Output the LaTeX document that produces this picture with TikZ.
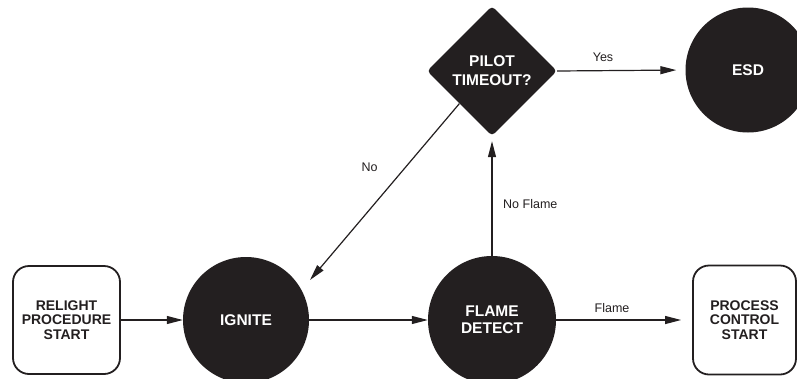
\documentclass[tikz,border=0pt]{standalone}
\usepackage{fontspec}
\setmainfont{Liberation Sans}
\usetikzlibrary{shapes.geometric,arrows.meta}
\definecolor{ink}{HTML}{231F20}
\begin{document}
\begin{tikzpicture}[x=1pt,y=-1pt,
  boxnode/.style={draw=ink,line width=1.8pt,rounded corners=16pt,align=center,
    font=\fontsize{14}{14.2}\selectfont\bfseries,text=ink,inner sep=0pt},
  blob/.style={circle,fill=ink,text=white,align=center,inner sep=0pt,
    font=\fontsize{15.5}{17}\selectfont\bfseries},
  decide/.style={diamond,fill=ink,text=white,align=center,inner sep=0pt,
    rounded corners=4pt,font=\fontsize{15.5}{19}\selectfont\bfseries},
  flow/.style={draw=ink,line width=1.2pt,-{Triangle[length=16pt,width=8pt]}},
  lbl/.style={font=\fontsize{12.5}{14}\selectfont,text=ink,inner sep=0pt}
]
\useasboundingbox (0,0) rectangle (797,378);
\clip (0,0) rectangle (797,378);

\node[boxnode,minimum width=107pt,minimum height=108pt] (relight) at (66.5,320) {RELIGHT\\PROCEDURE\\START};
\node[blob,minimum size=126pt] (ignite) at (246,320) {IGNITE};
\node[blob,minimum size=128pt] (flame) at (492,320) {FLAME\\DETECT};
\node[decide,minimum width=130pt,minimum height=130pt] (pilot) at (492,71) {PILOT\\TIMEOUT?};
\node[blob,minimum size=125pt] (esd) at (748,70) {ESD};
\node[boxnode,minimum width=103pt,minimum height=109pt] (process) at (744.5,320) {PROCESS\\CONTROL\\START};

\coordinate (noend) at (310,280);

\draw[flow] (relight.east) -- (ignite.west);
\draw[flow] (ignite.east) -- (flame.west);
\draw[flow,shorten >=11pt] (flame.east) -- (process.west);
\draw[flow,shorten >=5pt] (flame.north) -- (pilot.south);
\draw[flow,shorten >=9pt] (pilot.east) -- (esd.west);
\draw[flow] (pilot.south west) -- (noend);

\node[lbl] (yes) at (603,57) {Yes};
\node[lbl] (no) at (369.5,167) {No};
\node[lbl,anchor=west] (noflame) at (503,204) {No Flame};
\node[lbl] (flamelbl) at (612,308) {Flame};
\end{tikzpicture}
\end{document}
